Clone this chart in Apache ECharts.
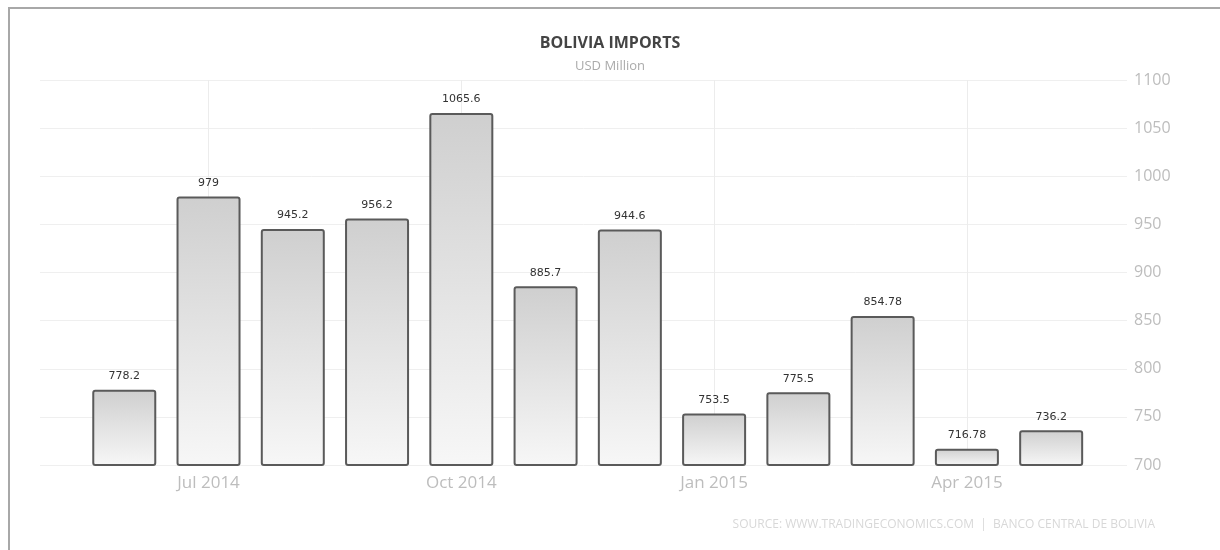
<!DOCTYPE html>
<html>
<head>
<meta charset="utf-8">
<title>Bolivia Imports</title>
<script src="https://cdn.jsdelivr.net/npm/echarts@6/dist/echarts.min.js"></script>
<style>
	html, body { margin: 0; padding: 0; background: #fff; }
	#myChart { width: 1220px; height: 550px; }
	#frame {
		position: absolute; left: 8px; top: 7px; right: 0; bottom: 0;
		border-left: 2px solid #a8a8a8; border-top: 2px solid #a8a8a8;
		pointer-events: none;
	}
</style>
</head>
<body>
<div id="myChart"></div>
<div id="frame"></div>
<script>
// months Jun 2014 .. May 2015
var months = ['Jun 2014', 'Jul 2014', 'Aug 2014', 'Sep 2014', 'Oct 2014', 'Nov 2014',
	'Dec 2014', 'Jan 2015', 'Feb 2015', 'Mar 2015', 'Apr 2015', 'May 2015'];
var imports = [778.2, 979, 945.2, 956.2, 1065.6, 885.7, 944.6, 753.5, 775.5, 854.78, 716.78, 736.2];
// only these months get a label and a vertical grid line
var labelledMonths = ['Jul 2014', 'Oct 2014', 'Jan 2015', 'Apr 2015'];
var yTicks = [700, 750, 800, 850, 900, 950, 1000, 1050, 1100];

var myChart = echarts.init(document.getElementById('myChart'));

var barData = imports.map(function (v, i) { return [i, v]; });

var option = {
	animation: false,
	title: {
		text: 'BOLIVIA IMPORTS',
		subtext: 'USD Million',
		left: 'center',
		top: 30,
		itemGap: 9,
		textStyle: { fontFamily: 'Open Sans', fontSize: 16, fontWeight: 'bold', color: '#444' },
		subtextStyle: { fontFamily: 'Open Sans', fontSize: 13, color: '#aaa' }
	},
	graphic: [{
		type: 'text',
		right: 65,
		top: 519,
		style: {
			text: 'SOURCE: WWW.TRADINGECONOMICS.COM  |  BANCO CENTRAL DE BOLIVIA',
			font: '12px "Open Sans"',
			fill: '#d8d8d8'
		}
	}],
	grid: { left: 40, right: 93, top: 80, bottom: 85 },
	xAxis: {
		type: 'value',
		min: -1,
		max: 11.9,
		interval: 1,
		axisLine: { show: false },
		axisTick: { show: false },
		axisLabel: {
			margin: 10,
			fontFamily: 'Open Sans',
			fontSize: 17,
			color: '#bdbdbd',
			showMinLabel: false,
			showMaxLabel: false,
			formatter: function (val) {
				var m = months[val];
				return (m && labelledMonths.indexOf(m) >= 0) ? m : '';
			}
		},
		splitLine: {
			show: true,
			// ticks start at -1, so every 3rd line from index 2 lands on 1, 4, 7, 10
			lineStyle: { color: ['rgba(0,0,0,0)', 'rgba(0,0,0,0)', '#ececec'], width: 1 }
		}
	},
	yAxis: {
		type: 'value',
		position: 'right',
		min: yTicks[0],
		max: yTicks[yTicks.length - 1],
		interval: 50,
		axisLine: { show: false },
		axisTick: { show: false },
		axisLabel: {
			margin: 7,
			fontFamily: 'Open Sans',
			fontSize: 16,
			color: '#bdbdbd',
			formatter: function (v) { return String(v); }
		},
		splitLine: { lineStyle: { color: '#efefef', width: 1 } }
	},
	series: [{
		type: 'bar',
		data: barData,
		barWidth: 64,
		itemStyle: {
			color: new echarts.graphic.LinearGradient(0, 0, 0, 1, [
				{ offset: 0, color: '#cfcfcf' },
				{ offset: 1, color: '#f7f7f7' }
			]),
			borderColor: '#5a5a5a',
			borderWidth: 2,
			borderRadius: 2
		},
		label: {
			show: true,
			position: 'top',
			distance: 8,
			fontFamily: 'DejaVu Sans',
			fontSize: 11,
			color: '#333',
			formatter: function (p) { return String(p.value[1]); }
		}
	}]
};

myChart.setOption(option);
</script>
</body>
</html>
